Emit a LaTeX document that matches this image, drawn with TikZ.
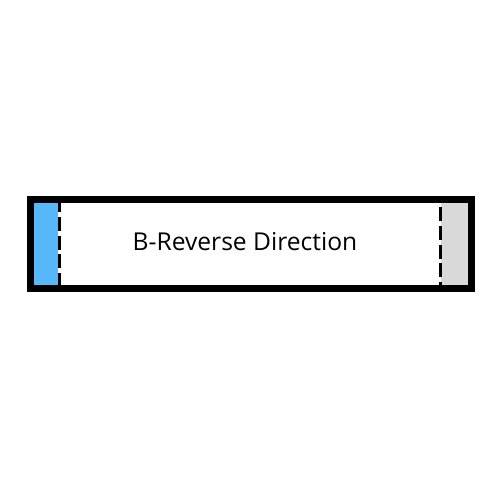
\documentclass[tikz,border=0pt]{standalone}
\usepackage{fontspec}
\setmainfont{Open Sans}
\definecolor{capblue}{HTML}{56B8F7}
\definecolor{capgray}{HTML}{D9D9D9}
\begin{document}
\begin{tikzpicture}[x=0.5pt,y=-0.5pt,
  frame/.style={draw=black,line width=3.5pt},
  divider/.style={draw=black,line width=1.6pt,dash pattern=on 7pt off 2.4pt},
  label/.style={font=\fontsize{12.3pt}{14pt}\selectfont,inner sep=0pt}]
\useasboundingbox (0,0) rectangle (500,500);
\fill[capblue] (34,203) rectangle (58,285);
\fill[capgray] (441,203) rectangle (468,285);
\draw[divider,dash phase=2.5pt] (59.5,203) -- (59.5,285);
\draw[divider,dash phase=-2pt] (440.5,203) -- (440.5,285);
\draw[frame] (30.5,199.5) rectangle (471.5,288.5);
\node[label] (t) at (245,242) {B-Reverse Direction};
\end{tikzpicture}
\end{document}
